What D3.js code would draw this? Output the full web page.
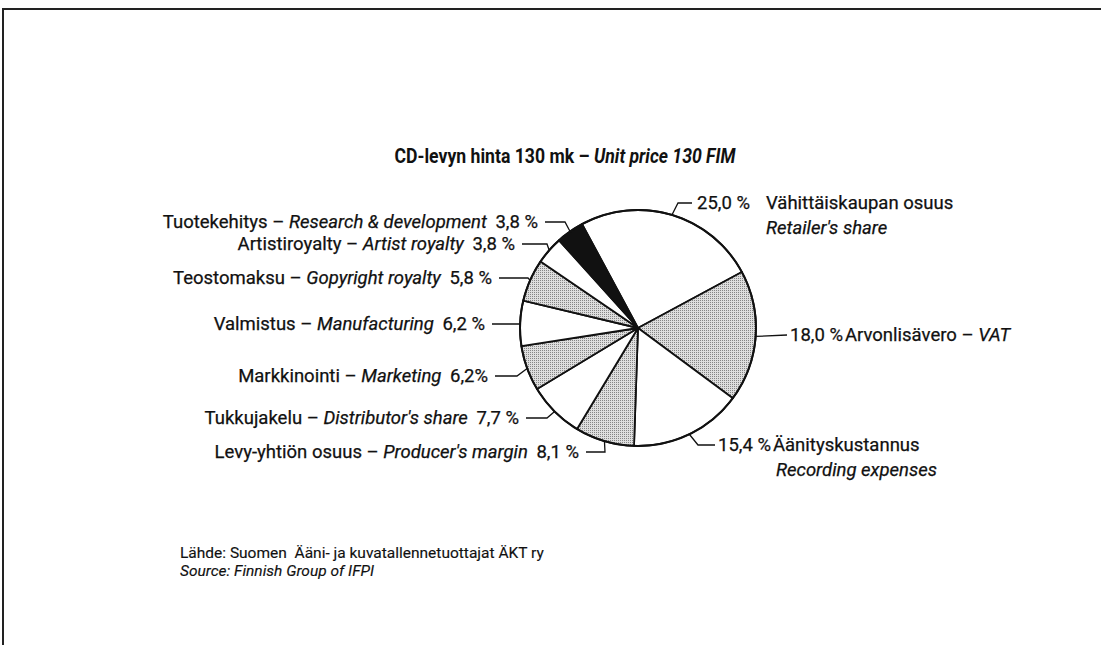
<!DOCTYPE html>
<html>
<head>
<meta charset="utf-8">
<script src="https://cdn.jsdelivr.net/npm/d3@7"></script>
<style>
  html, body { margin: 0; padding: 0; background: #fff; overflow: hidden; }
  svg { display: block; position: absolute; left: 0; top: 0; }
  text { font-family: "Roboto", "Liberation Sans", sans-serif; fill: #111; }
  .lbl text { stroke: #111; stroke-width: 0.25px; }
  .lbl { font-size: 18.5px; }
  .title { font-size: 20.5px; font-weight: bold; }
  .src { font-size: 15.5px; stroke: #111; stroke-width: 0.15px; }
  .it { font-style: italic; }
</style>
</head>
<body>
<script>
'use strict';

// slices, clockwise from the retailer's share
const shares = [25.0, 18.0, 15.4, 8.1, 7.7, 6.2, 6.2, 5.8, 3.8, 3.8];
const shareText = ['25,0 %', '18,0 %', '15,4 %', '8,1 %', '7,7 %', '6,2%', '6,2 %', '5,8 %', '3,8 %', '3,8 %'];
const namesFi = ['Vähittäiskaupan osuus', 'Arvonlisävero', 'Äänityskustannus', 'Levy-yhtiön osuus',
  'Tukkujakelu', 'Markkinointi', 'Valmistus', 'Teostomaksu', 'Artistiroyalty', 'Tuotekehitys'];
const namesEn = ["Retailer's share", 'VAT', 'Recording expenses', "Producer's margin",
  "Distributor's share", 'Marketing', 'Manufacturing', 'Gopyright royalty', 'Artist royalty',
  'Research & development'];

const titleFi = 'CD-levyn hinta 130 mk – ';
const titleEn = 'Unit price 130 FIM';
const sourceFi = 'Lähde: Suomen  Ääni- ja kuvatallennetuottajat ÄKT ry';
const sourceEn = 'Source: Finnish Group of IFPI';

// styling / layout
const sliceFill = ['#fff', 'url(#dots)', '#fff', 'url(#dots)', '#fff', 'url(#dots)', '#fff', 'url(#dots)', '#fff', '#111'];
// leader elbow and end of the leader line, per slice
const leaders = [
  { side: 'r', y: 203, elbowX: 678, endX: 692 },
  { side: 'r', y: 335, elbowX: 787, endX: 787 },
  { side: 'r', y: 445, elbowX: 698, endX: 715 },
  { side: 'l', y: 452, elbowX: 605, endX: 586 },
  { side: 'l', y: 418, elbowX: 547, endX: 526 },
  { side: 'l', y: 376, elbowX: 517, endX: 495 },
  { side: 'l', y: 324, elbowX: 520, endX: 492 },
  { side: 'l', y: 278, elbowX: 528, endX: 499 },
  { side: 'l', y: 244, elbowX: 547, endX: 522 },
  { side: 'l', y: 222, elbowX: 565, endX: 545 }
];

const W = 1101, H = 645;
const cx = 638, cy = 328, R = 118;

const svg = d3.select('body').append('svg')
  .attr('width', W).attr('height', H)
  .attr('viewBox', `0 0 ${W} ${H}`)
  .attr('xmlns', 'http://www.w3.org/2000/svg');

// stipple pattern for the grey slices
const pat = svg.append('defs').append('pattern')
  .attr('id', 'dots')
  .attr('patternUnits', 'userSpaceOnUse')
  .attr('width', 2).attr('height', 2);
pat.append('rect').attr('width', 2).attr('height', 2).attr('fill', '#dedede');
pat.append('rect').attr('width', 1).attr('height', 1).attr('fill', '#858585');

// frame (top and left edges of the scanned page)
svg.append('path')
  .attr('d', `M3,${H} V9 H${W}`)
  .attr('fill', 'none')
  .attr('stroke', '#222')
  .attr('stroke-width', 2);

// title, squeezed to look condensed
const sx = 0.86;
svg.append('g')
  .attr('transform', `translate(565, 163) scale(${sx}, 1)`)
  .append('text')
    .attr('class', 'title')
    .attr('text-anchor', 'middle')
    .call(t => {
      t.append('tspan').text(titleFi);
      t.append('tspan').attr('class', 'it').text(titleEn);
    });

// pie
const start = -28.3 * Math.PI / 180;
const pie = d3.pie().sort(null).startAngle(start).endAngle(start + 2 * Math.PI);
const arcs = pie(shares);
const arc = d3.arc().innerRadius(0).outerRadius(R);
const rim = d3.arc().innerRadius(R).outerRadius(R);

const g = svg.append('g').attr('transform', `translate(${cx}, ${cy})`);
g.selectAll('path.slice')
  .data(arcs)
  .join('path')
    .attr('class', 'slice')
    .attr('d', arc)
    .attr('fill', (d, i) => sliceFill[i])
    .attr('stroke', '#111')
    .attr('stroke-width', 1.8)
    .attr('stroke-linejoin', 'round');
g.append('circle')
  .attr('r', R)
  .attr('fill', 'none')
  .attr('stroke', '#111')
  .attr('stroke-width', 2);

// leader lines from the rim to the labels
const line = d3.line();
svg.append('g').selectAll('path')
  .data(arcs)
  .join('path')
    .attr('d', (d, i) => {
      const [x, y] = rim.centroid(d);
      const L = leaders[i];
      return line([[cx + x, cy + y], [L.elbowX, L.y], [L.endX, L.y]]);
    })
    .attr('fill', 'none')
    .attr('stroke', '#111')
    .attr('stroke-width', 1.3);

// left labels: "fi – en pct", right aligned
const labels = svg.append('g').attr('class', 'lbl');
arcs.forEach((d, i) => {
  const L = leaders[i];
  if (L.side !== 'l') return;
  const t = labels.append('text')
    .attr('x', L.endX - 7).attr('y', L.y)
    .attr('dy', '0.32em')
    .attr('text-anchor', 'end');
  t.append('tspan').text(`${namesFi[i]} – `);
  t.append('tspan').attr('class', 'it').text(namesEn[i]);
  t.append('tspan').attr('dx', 4).text(` ${shareText[i]}`);
});

// right labels
const rightText = (x, y, str, italic, anchor) => labels.append('text')
  .attr('class', italic ? 'it' : null)
  .attr('x', x).attr('y', y)
  .attr('dy', '0.32em')
  .attr('text-anchor', anchor || 'start')
  .text(str);

// retailer
rightText(leaders[0].endX + 5, leaders[0].y, shareText[0]);
rightText(766, leaders[0].y, namesFi[0]);
rightText(766, leaders[0].y + 25, namesEn[0], true);
// VAT
labels.append('text')
  .attr('x', leaders[1].endX + 3).attr('y', leaders[1].y)
  .attr('dy', '0.32em')
  .call(t => {
    t.append('tspan').text(shareText[1]);
    t.append('tspan').attr('dx', 2).text(`${namesFi[1]} – `);
    t.append('tspan').attr('class', 'it').text(namesEn[1]);
  });
// recording
labels.append('text')
  .attr('x', leaders[2].endX + 3).attr('y', leaders[2].y)
  .attr('dy', '0.32em')
  .call(t => {
    t.append('tspan').text(shareText[2]);
    t.append('tspan').attr('dx', 2).text(namesFi[2]);
  });
rightText(937, leaders[2].y + 25, namesEn[2], true, 'end');

// source note
svg.append('text').attr('class', 'src')
  .attr('x', 180).attr('y', 558)
  .attr('xml:space', 'preserve')
  .text(sourceFi);
svg.append('text').attr('class', 'src it')
  .attr('x', 180).attr('y', 576)
  .text(sourceEn);
</script>
</body>
</html>
